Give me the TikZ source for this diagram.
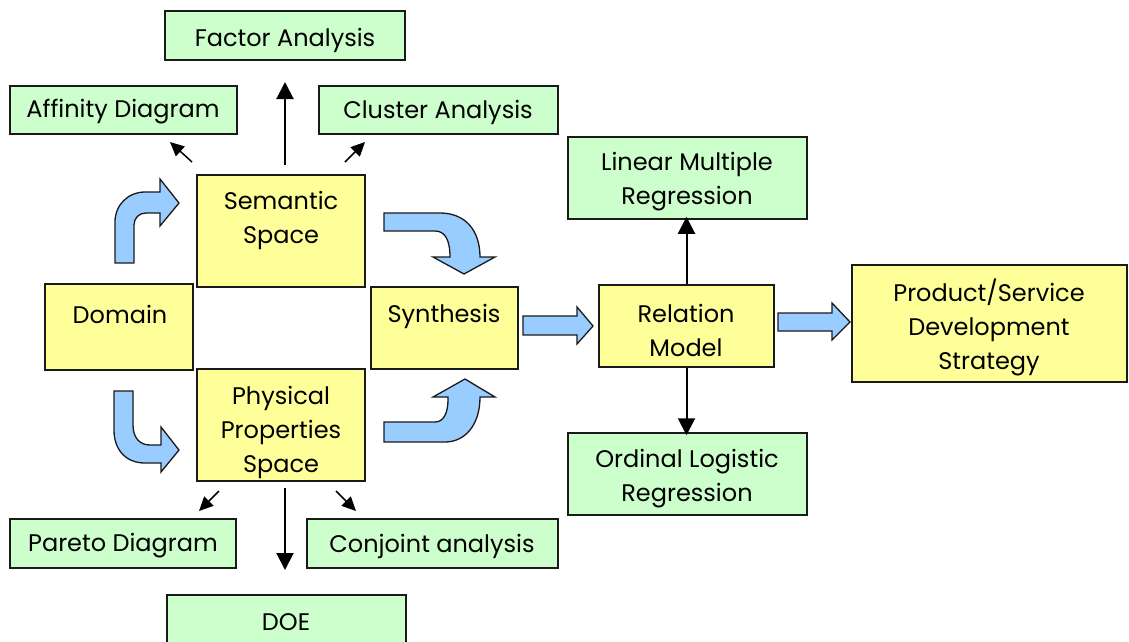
\documentclass[tikz,border=0pt]{standalone}
\usepackage{fontspec}
\setmainfont{Poppins}
\usetikzlibrary{arrows.meta}
\definecolor{ybox}{HTML}{FFFF99}
\definecolor{gbox}{HTML}{CCFFCC}
\definecolor{barrow}{HTML}{99CCFF}
\definecolor{edge}{HTML}{1A1A1A}
\tikzset{
  box/.style={draw=edge, line width=1.5pt, inner sep=0pt},
  yb/.style={box, fill=ybox},
  gb/.style={box, fill=gbox},
  lbl/.style={inner sep=0pt, align=center, font=\fontsize{24}{34}\selectfont},
  bigarr/.style={draw=black, line width=2pt, -{Triangle[length=17pt,width=17pt]}},
  smallarr/.style={draw=black, line width=1.5pt, -{Triangle[length=14pt,width=13pt]}},
  blk/.style={draw=edge, line width=1.3pt, fill=barrow, line join=miter}
}
\begin{document}
\begin{tikzpicture}[x=1pt,y=-1pt]
\useasboundingbox (0,0) rectangle (1129,641);
\clip (0,0) rectangle (1129,641);
% boxes
\node[gb, minimum width=240, minimum height=49] (fa) at (285,35.5) {};
\node[gb, minimum width=227, minimum height=48] (ad) at (123.5,110) {};
\node[gb, minimum width=239, minimum height=48] (ca) at (438.5,110) {};
\node[yb, minimum width=168, minimum height=112] (sem) at (281,231) {};
\node[yb, minimum width=148, minimum height=86] (dom) at (119,327) {};
\node[yb, minimum width=147, minimum height=82] (syn) at (444.5,328) {};
\node[yb, minimum width=168, minimum height=112] (phy) at (281,425) {};
\node[gb, minimum width=226, minimum height=49] (pd) at (123,543.5) {};
\node[gb, minimum width=251, minimum height=49] (cj) at (432.5,543.5) {};
\node[gb, minimum width=239, minimum height=60] (doe) at (286.5,625) {};
\node[gb, minimum width=239, minimum height=82] (lmr) at (687.5,178) {};
\node[yb, minimum width=175, minimum height=82] (rel) at (686.5,326) {};
\node[gb, minimum width=239, minimum height=82] (olr) at (687.5,474) {};
\node[yb, minimum width=275, minimum height=117] (pss) at (989.5,323.5) {};
% labels
\node[lbl] (fat) at (285,40) {Factor Analysis};
\node[lbl] (adt) at (123,112) {Affinity Diagram};
\node[lbl] (cat) at (438,112) {Cluster Analysis};
\node[lbl] (semt) at (281,220) {Semantic\\Space};
\node[lbl] (domt) at (120,314) {Domain};
\node[lbl] (synt) at (444,316) {Synthesis};
\node[lbl] (phyt) at (281,432) {Physical\\Properties\\Space};
\node[lbl] (pdt) at (123,546) {Pareto Diagram};
\node[lbl] (cjt) at (432,546) {Conjoint analysis};
\node[lbl] (doet) at (286,622) {DOE};
\node[lbl] (lmrt) at (687,182) {Linear Multiple\\Regression};
\node[lbl] (relt) at (686,330) {Relation\\Model};
\node[lbl] (olrt) at (687,479) {Ordinal Logistic\\Regression};
\node[lbl] (psst) at (989,327) {Product/Service\\Development\\Strategy};
% thin connectors
\coordinate (faend) at (285,82);
\coordinate (fastart) at (285,165);
\draw[bigarr] (fastart) -- (faend);
\coordinate (doestart) at (285,488);
\coordinate (doeend) at (285,570);
\draw[bigarr] (doestart) -- (doeend);
\coordinate (ads) at (192,162);
\coordinate (ade) at (170,142);
\draw[smallarr] (ads) -- (ade);
\coordinate (cas) at (345,162);
\coordinate (cae) at (365,142);
\draw[smallarr] (cas) -- (cae);
\coordinate (pds) at (219,491);
\coordinate (pde) at (199,511);
\draw[smallarr] (pds) -- (pde);
\coordinate (cjs) at (336,491);
\coordinate (cje) at (356,511);
\draw[smallarr] (cjs) -- (cje);
\draw[bigarr] (rel.north) -- ([yshift=3pt]rel.north |- lmr.south);
\draw[bigarr] (rel.south) -- ([yshift=-3pt]rel.south |- olr.north);
% block arrows
\draw[blk] (523,316) -- (577,316) -- (577,307) -- (593,326) -- (577,344) -- (577,335) -- (523,335) -- cycle;
\draw[blk] (778,313) -- (832,313) -- (832,303) -- (850,322) -- (832,340) -- (832,331) -- (778,331) -- cycle;
% curved block arrows
\draw[blk] (115,263) -- (115,222) .. controls (115,205) and (128,192) .. (145,192) -- (160,192) -- (160,179) -- (179,203) -- (160,226) -- (160,213) -- (146,213) .. controls (139,213) and (134,218) .. (134,225) -- (134,263) -- cycle;
\draw[blk] (384,213) -- (440,213) .. controls (465,213) and (480,230) .. (480,257) -- (495,257) -- (464,274) -- (433,257) -- (450,257) .. controls (450,240) and (445,231) .. (435,231) -- (384,231) -- cycle;
\draw[blk] (114,391) -- (133,391) -- (133,425) .. controls (133,438) and (140,445) .. (150,445) -- (161,445) -- (161,427) -- (179,450) -- (161,472) -- (161,463) -- (145,463) .. controls (126,463) and (114,450) .. (114,430) -- cycle;
\draw[blk] (384,422) -- (435,422) .. controls (444,422) and (448,412) .. (448,400) -- (448,397) -- (433,397) -- (465,379) -- (495,397) -- (480,397) .. controls (480,425) and (465,442) .. (445,442) -- (384,442) -- cycle;
\end{tikzpicture}
\end{document}
